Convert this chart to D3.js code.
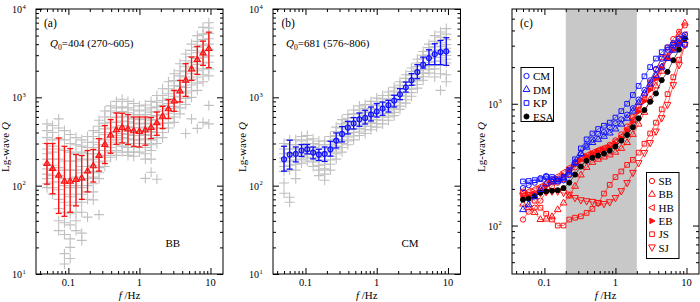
<!DOCTYPE html>
<html><head><meta charset="utf-8">
<script src="https://cdn.jsdelivr.net/npm/d3@7"></script>
<style>
body{margin:0;background:#fff}
text{font-family:"Liberation Serif","DejaVu Serif",serif}
</style></head>
<body><div id="Canvas"></div>
<script>
// frequencies (Hz) shared by all panels
const freqs = [0.050,0.060,0.073,0.088,0.106,0.128,0.154,0.186,0.224,0.270,0.326,0.393,0.474,0.571,0.689,0.831,1.00,1.21,1.46,1.76,2.12,2.56,3.08,3.72,4.48,5.41,6.52,7.86,9.48]

// panel (a) BB : mean and range
const bbMean = [178,156,131,112,112,117,122,146,167,219,292,372,427,455,435,416,410,424,455,513,610,738,908,1178,1556,2089,2667,3167,3550]
const bbHigh = [300,300,347,279,263,225,219,250,257,341,479,560,665,660,638,599,599,599,590,682,791,942,1200,1556,2404,2853,3770,4325,5470]
const bbLow  = [104,81,48.5,45,50,59,70,85,110,146,178,233,294,305,292,279,274,287,341,372,443,575,695,885,1026,1556,1820,2300,2166]
// gray crosses (single paths), one row per frequency
const bbCloud = [
  [500,420,350,300,260,230,200,175,155,135,120,105,95],
  [480,400,330,280,240,200,170,150,130,110,95,80],
  [570,450,340,260,200,160,130,110,90,70,55,40,31],
  [420,330,250,190,150,120,100,80,65,50,38,28,17,13],
  [380,300,240,190,150,120,95,75,60,48,36,25,20,15],
  [350,290,230,190,150,125,100,80,65,50,40,31],
  [330,280,240,200,165,140,115,95,80,65,50,29,24],
  [360,310,270,230,195,165,140,120,100,85,70,44],
  [420,360,310,270,230,200,170,145,125,105,85,69],
  [550,470,400,340,290,250,215,185,160,140,120,47],
  [700,600,510,440,380,330,290,250,220,190,165],
  [800,700,600,520,450,400,350,310,270,240,210],
  [900,760,670,590,520,460,410,370,330,290,250,220],
  [950,780,690,610,540,480,430,390,350,310,280,240],
  [900,760,670,600,530,470,420,380,340,300,270,240,220],
  [850,720,640,570,510,455,410,370,330,300,270,240,215],
  [800,700,630,560,500,450,410,370,330,300,270,240],
  [820,720,640,570,510,460,420,380,340,300,270,230,200,121],
  [900,760,680,610,550,500,450,410,370,330,290,250,200,142],
  [1050,880,780,690,620,560,500,450,400,350,300,118],
  [1250,1050,920,810,720,640,570,510,450,400,350],
  [1500,1250,1100,960,850,750,660,580,510,450],
  [1850,1550,1350,1180,1030,900,790,690,600,520],
  [2400,2000,1750,1530,1330,1160,1010,880,760,650],
  [3100,2600,2250,1950,1700,1480,1290,1120,970,830,390],
  [4000,3400,2900,2500,2150,1850,1600,1380,1180,1000,570],
  [5000,4300,3700,3200,2750,2350,2000,1700,1450,1200,445],
  [6200,5200,4500,3900,3350,2850,2450,2100,1800,1500,520],
  [7000,6100,5300,4600,4000,3450,2950,2500,2100,1750,810,500]
]

// panel (b) CM
const cmMean = [199,225,229,250,258,237,225,229,258,324,385,455,508,564,584,638,689,745,813,918,1081,1297,1556,1932,2343,2780,3083,3250,3311]
const cmHigh = [279,327,274,292,292,274,258,274,318,395,467,535,590,665,713,777,849,885,925,1054,1254,1489,1853,2343,2853,3459,4045,4406,4730]
const cmLow  = [146,154,186,214,229,201,193,188,216,267,313,385,438,470,499,540,599,626,682,777,942,1148,1368,1626,2143,2343,2343,2343,2300]
const cmCloud = [
  [300,260,230,205,185,165,145,107,82],
  [330,290,260,235,210,190,170,150,74,65],
  [330,290,260,235,215,195,175,150,120],
  [360,320,290,265,240,220,200,180],
  [370,330,300,275,250,230,210,190],
  [340,300,270,245,225,205,185,165],
  [320,290,260,235,210,190,170,150,130],
  [320,290,265,240,215,195,175,155,135,115],
  [360,320,290,265,240,215,195,175,150],
  [460,410,370,335,305,280,255,230,200],
  [560,500,450,405,365,330,300,270,240],
  [640,580,520,470,430,390,355,320,290],
  [720,650,590,535,485,440,400,365,330],
  [800,720,650,590,540,490,445,405,370],
  [830,750,680,620,565,515,470,430,390],
  [900,820,745,680,620,565,515,470,430],
  [980,890,810,735,670,610,555,505,460],
  [1050,960,870,795,725,660,600,550,500],
  [1150,1050,950,865,790,720,655,600,550],
  [1300,1180,1070,975,890,810,740,675,620],
  [1500,1370,1250,1140,1040,950,870,795,730],
  [1800,1640,1490,1360,1240,1130,1030,940,860],
  [2150,1960,1790,1630,1490,1360,1240,1130,1030],
  [2700,2450,2230,2030,1850,1690,1540,1400,1270],
  [3300,3000,2730,2480,2260,2060,1880,1710,1560],
  [4000,3650,3320,3020,2750,2500,2280,2070,1880],
  [5000,4300,3740,3400,3100,2820,2560,2330,2100,1700],
  [5500,4800,4150,3770,3430,3120,2840,2580,2330,1850,1200],
  [6000,5200,4500,3950,3600,3270,2970,2700,2450,1800,1500]
]

// panel (c) regional curves
const cCM  = [203,215,225,245,255,240,230,235,260,325,385,455,508,564,584,638,689,745,813,918,1081,1297,1556,1932,2343,2780,3150,3450,3700]
const cDM  = [135,148,172,198,220,228,232,245,275,330,390,440,480,510,540,575,620,680,760,870,1020,1220,1450,1700,2000,2350,2750,3150,3500]
const cKP  = [230,232,236,240,250,250,240,250,285,350,430,510,570,620,660,700,770,870,1000,1180,1400,1680,2000,2350,2650,2900,3050,3100,3050]
const cESA = [163,166,174,186,191,193,195,203,225,262,305,340,360,375,390,412,445,498,554,641,760,888,1038,1215,1563,1828,2277,2784,3427]
const cSB  = [112,130,140,160,190,210,225,240,265,300,330,360,385,410,430,460,500,560,650,780,960,1180,1500,1900,2400,2900,3400,3900,4400]
const cBB  = [150,140,128,112,113,118,135,153,175,210,260,300,330,350,365,380,400,430,480,560,680,850,1080,1400,1850,2400,3000,3700,4600]
const cHB  = [185,192,200,210,225,240,255,275,300,330,355,380,400,420,435,455,490,540,620,740,900,1100,1350,1650,2050,2500,2950,3350,3700]
const cEB  = [170,175,182,195,210,225,240,258,285,315,345,370,390,405,420,440,470,520,600,710,860,1050,1300,1600,1950,2350,2750,3100,3400]
const cJS  = [190,178,160,140,125,112,100,100,112,116,119,127,137,153,183,216,250,278,315,346,397,470,570,700,900,1200,1650,2300,3100]
const cSJ  = [175,178,180,185,188,190,190,185,179,168,161,158,156,153,150,155,168,191,223,270,325,393,475,590,760,977,1420,2070,3020]
const bandC = [0.2, 2]

// ticks
const xMajor = [0.1,1,10]
const xMinor = [0.04,0.05,0.06,0.07,0.08,0.09,0.2,0.3,0.4,0.5,0.6,0.7,0.8,0.9,2,3,4,5,6,7,8,9]
const yMajorAB = [10,100,1000,10000]
const yMinorAB = [20,30,40,50,60,70,80,90,200,300,400,500,600,700,800,900,2000,3000,4000,5000,6000,7000,8000,9000]
const yMajorC = [100,1000]
const yMinorC = [50,60,70,80,90,200,300,400,500,600,700,800,900,2000,3000,4000,5000]

let svg = d3.select("#Canvas").append("svg")
    .attr("width",700).attr("height",302)

const yTop = 9, yBot = 274
const RED = "#ff1010", BLUE = "#1010ff"

function makeX(x0,x1){ return d3.scaleLog().domain([0.035,15]).range([x0,x1]) }
let xA = makeX(36,223), xB = makeX(273,460.5), xC = makeX(512,699)
let yA = d3.scaleLog().domain([10,10000]).range([yBot,yTop])
let yC = d3.scaleLog().domain([40,6000]).range([yBot,yTop])

function axes(x, y, yMajor, yMinor){
    let [x0,x1] = x.range()
    let g = svg.append("g")
    let ax = [
        [d3.axisBottom, `translate(0,${yBot})`, x, xMinor, xMajor],
        [d3.axisTop, `translate(0,${yTop})`, x, xMinor, xMajor],
        [d3.axisLeft, `translate(${x0},0)`, y, yMinor, yMajor],
        [d3.axisRight, `translate(${x1},0)`, y, yMinor, yMajor]
    ]
    ax.forEach(([fn,tr,sc,mn,mj])=>{
        g.append("g").attr("transform",tr)
            .call(fn(sc).tickValues(mn).tickSize(-3).tickSizeOuter(0).tickFormat(""))
            .call(s=>s.select(".domain").remove())
        g.append("g").attr("transform",tr)
            .call(fn(sc).tickValues(mj).tickSize(-6).tickSizeOuter(0).tickFormat(""))
            .call(s=>s.select(".domain").remove())
    })
    g.selectAll("line").attr("stroke","#000").attr("stroke-width",1)
    g.append("rect").attr("x",x0).attr("y",yTop).attr("width",x1-x0).attr("height",yBot-yTop)
        .attr("fill","none").attr("stroke","#000").attr("stroke-width",1)
    // x labels
    g.selectAll(".xl").data(xMajor).enter().append("text")
        .attr("x",d=>x(d)).attr("y",285.5).attr("text-anchor","middle")
        .attr("font-size",10.5).text(d=>d)
    // y labels as powers of ten
    yMajor.forEach(v=>{
        g.append("text").attr("x",x0-14).attr("y",y(v)+4)
            .attr("text-anchor","end").attr("font-size",10).text("10")
        g.append("text").attr("x",x0-13.5).attr("y",y(v)-0.5)
            .attr("font-size",6.5).text(Math.round(Math.log10(v)))
    })
    // x title
    let xt = g.append("text").attr("x",(x0+x1)/2).attr("y",298.5)
        .attr("text-anchor","middle").attr("font-size",11)
    xt.append("tspan").attr("font-style","italic").text("f")
    xt.append("tspan").text(" /Hz")
    // y title
    let yt = g.append("text").attr("transform",`translate(${x0-27},147) rotate(-90)`)
        .attr("text-anchor","middle").attr("font-size",11)
    yt.append("tspan").text("Lg-wave ")
    yt.append("tspan").attr("font-style","italic").text("Q")
}

function cross(g, x, y, cloud){
    cloud.forEach((vals,i)=>{
        vals.forEach(v=>{
            let cx = x(freqs[i]), cy = y(v)
            g.append("path").attr("d",`M${cx-5},${cy}H${cx+5}M${cx},${cy-5}V${cy+5}`)
                .attr("stroke","#c0c0c0").attr("stroke-width",1.1).attr("fill","none")
        })
    })
}

function errbars(g, x, y, mean, lo, hi, color, sym){
    freqs.forEach((f,i)=>{
        let cx = x(f)
        g.append("line").attr("x1",cx).attr("x2",cx).attr("y1",y(lo[i])).attr("y2",y(hi[i]))
            .attr("stroke",color).attr("stroke-width",1.3)
        ;[lo[i],hi[i]].forEach(v=>{
            g.append("line").attr("x1",cx-3).attr("x2",cx+3).attr("y1",y(v)).attr("y2",y(v))
                .attr("stroke",color).attr("stroke-width",1.3)
        })
    })
    g.selectAll(".m").data(mean).enter().append("path")
        .attr("transform",(d,i)=>`translate(${x(freqs[i])},${y(d)})`)
        .attr("d",d3.symbol().type(sym).size(sym===d3.symbolCircle?20:16))
        .attr("fill",color).attr("fill-opacity",0.3).attr("stroke",color).attr("stroke-width",1.2)
}

function label(x, y, parts, size){
    let t = svg.append("text").attr("x",x).attr("y",y).attr("font-size",size)
    parts.forEach(p=>{
        let s = t.append("tspan").text(p.t)
        if(p.i) s.attr("font-style","italic")
        if(p.sub) s.attr("font-size",size*0.7).attr("dy",2.5)
        if(p.back) s.attr("dy",-2.5)
    })
}

// panel a
let gA = svg.append("g")
cross(gA, xA, yA, bbCloud)
errbars(gA, xA, yA, bbMean, bbLow, bbHigh, RED, d3.symbolTriangle)
axes(xA, yA, yMajorAB, yMinorAB)
label(44, 27, [{t:"(a)"}], 11.5)
label(50, 47, [{t:"Q",i:1},{t:"0",sub:1},{t:"=404 (270~605)",back:1}], 11)
label(165.5, 247, [{t:"BB"}], 11)

// panel b
let gB = svg.append("g")
cross(gB, xB, yA, cmCloud)
errbars(gB, xB, yA, cmMean, cmLow, cmHigh, BLUE, d3.symbolCircle)
axes(xB, yA, yMajorAB, yMinorAB)
label(281.5, 27, [{t:"(b)"}], 11.5)
label(286, 47, [{t:"Q",i:1},{t:"0",sub:1},{t:"=681 (576~806)",back:1}], 11)
label(401.5, 247, [{t:"CM"}], 11)

// panel c
let gC = svg.append("g")
gC.append("rect").attr("x",xC(bandC[0])).attr("y",yTop).attr("width",xC(bandC[1])-xC(bandC[0]))
    .attr("height",yBot-yTop).attr("fill","#c8c8c8")

const triL = {draw(c,s){ let r=Math.sqrt(s/1.3); c.moveTo(-r,0); c.lineTo(r*0.7,-r*0.9); c.lineTo(r*0.7,r*0.9); c.closePath() }}
const triR = {draw(c,s){ let r=Math.sqrt(s/1.3); c.moveTo(r,0); c.lineTo(-r*0.7,-r*0.9); c.lineTo(-r*0.7,r*0.9); c.closePath() }}
const triD = {draw(c,s){ let r=Math.sqrt(s/1.3); c.moveTo(0,r); c.lineTo(-r*0.9,-r*0.7); c.lineTo(r*0.9,-r*0.7); c.closePath() }}

const cSeries = [
    {name:"CM", v:cCM, c:BLUE, s:d3.symbolCircle, size:22, fill:"none"},
    {name:"DM", v:cDM, c:BLUE, s:d3.symbolTriangle, size:20, fill:"none"},
    {name:"KP", v:cKP, c:BLUE, s:d3.symbolSquare, size:22, fill:"none"},
    {name:"ESA", v:cESA, c:"#000", s:d3.symbolCircle, size:20, fill:"#000"},
    {name:"SB", v:cSB, c:RED, s:d3.symbolCircle, size:22, fill:"none"},
    {name:"BB", v:cBB, c:RED, s:d3.symbolTriangle, size:20, fill:"none"},
    {name:"HB", v:cHB, c:RED, s:triL, size:14, fill:"none"},
    {name:"EB", v:cEB, c:RED, s:triR, size:12, fill:RED},
    {name:"JS", v:cJS, c:RED, s:d3.symbolSquare, size:22, fill:"none"},
    {name:"SJ", v:cSJ, c:RED, s:triD, size:18, fill:"none"}
]
let line = d3.line().x((d,i)=>xC(freqs[i])).y(d=>yC(d))
cSeries.slice().reverse().forEach(s=>{
    gC.append("path").attr("d",line(s.v)).attr("fill","none")
        .attr("stroke",s.c).attr("stroke-width",0.8).attr("stroke-opacity",0.8)
    gC.selectAll(null).data(s.v).enter().append("path")
        .attr("transform",(d,i)=>`translate(${xC(freqs[i])},${yC(d)})`)
        .attr("d",d3.symbol().type(s.s).size(s.size))
        .attr("fill",s.fill).attr("stroke",s.c).attr("stroke-width",1)
})
axes(xC, yC, yMajorC, yMinorC)
label(520, 27, [{t:"(c)"}], 11.5)

function legend(x0, y0, w, h, items, step){
    svg.append("rect").attr("x",x0).attr("y",y0).attr("width",w).attr("height",h)
        .attr("fill","#fff").attr("stroke","#000").attr("stroke-width",1)
    items.forEach((s,i)=>{
        let cy = y0 + 8.5 + i*step
        svg.append("path").attr("transform",`translate(${x0+5.5},${cy})`)
            .attr("d",d3.symbol().type(s.s).size(s.size))
            .attr("fill",s.fill).attr("stroke",s.c).attr("stroke-width",1)
        svg.append("text").attr("x",x0+12).attr("y",cy+4).attr("font-size",11).text(s.name)
    })
}
legend(521, 67.5, 32.5, 54, cSeries.slice(0,4), 13.5)
legend(646.5, 172.5, 32.5, 86, cSeries.slice(4), 13.3)
</script>
</body></html>
